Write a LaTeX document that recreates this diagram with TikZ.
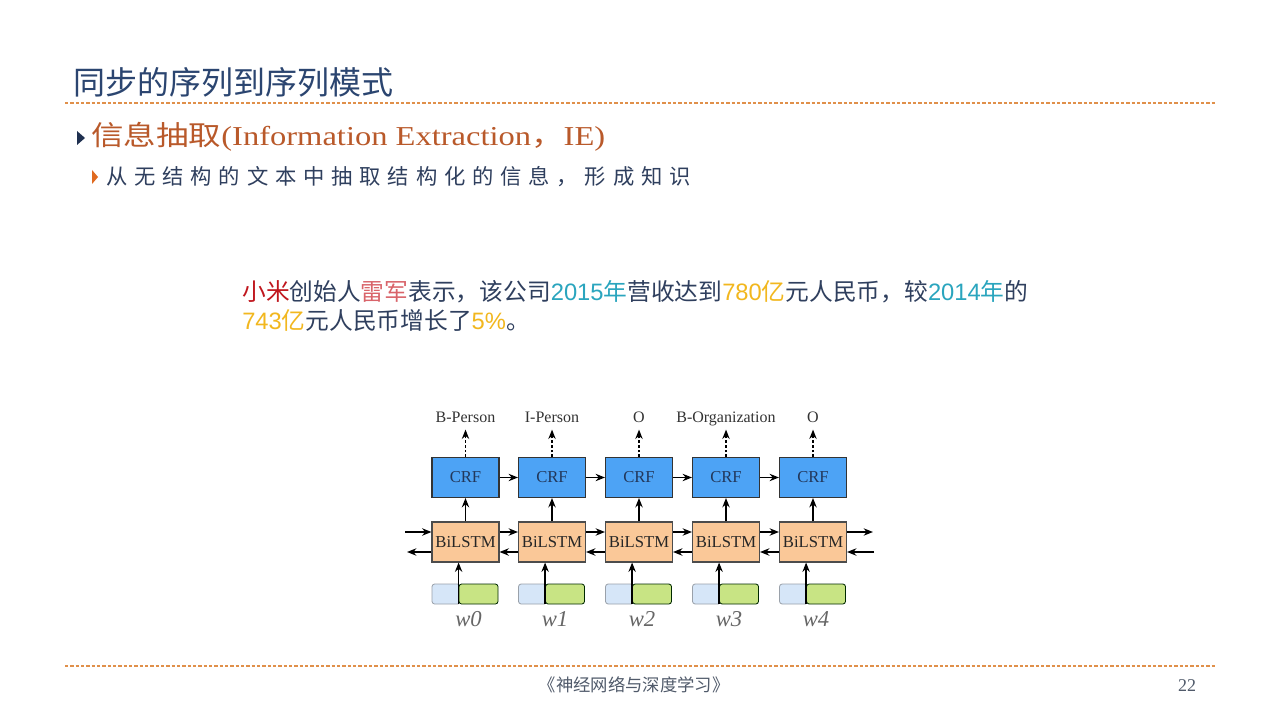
\documentclass[tikz,border=0pt]{standalone}
\usepackage{fontspec}
\setmainfont{Liberation Serif}
\newfontfamily\cjk{Noto Sans CJK SC}
\newfontfamily\cjkwide{Noto Sans CJK SC}[LetterSpace=32]
\newfontfamily\arial{Liberation Sans}
\usetikzlibrary{arrows.meta,calc}
\definecolor{titleblue}{HTML}{2B4570}
\definecolor{bodyblue}{HTML}{2F3F5E}
\definecolor{brown1}{HTML}{B9592A}
\definecolor{dashor}{HTML}{E0904A}
\definecolor{bulletnavy}{HTML}{1F3050}
\definecolor{bulletor}{HTML}{E06A20}
\definecolor{xred}{HTML}{C0161D}
\definecolor{xpink}{HTML}{D9646A}
\definecolor{xteal}{HTML}{2AA5BE}
\definecolor{xgold}{HTML}{F2B71E}
\definecolor{crfblue}{HTML}{4DA3F5}
\definecolor{lstmpeach}{HTML}{FAC898}
\definecolor{inblue}{HTML}{D6E6F8}
\definecolor{ingreen}{HTML}{C8E484}
\definecolor{footgray}{HTML}{505A6A}
\tikzset{
  crfbox/.style={draw=black!80,line width=0.8pt,fill=crfblue,minimum width=50.25pt,minimum height=30pt,inner sep=0pt,font=\fontsize{12.5}{14}\selectfont,text=titleblue!80!black},
  lstmbox/.style={draw=black!70,line width=0.8pt,fill=lstmpeach,minimum width=50.25pt,minimum height=30pt,inner sep=0pt,font=\fontsize{12.5}{14}\selectfont,text=black!85},
  inbluebox/.style={draw=inblue!60!black!80,line width=0.6pt,fill=inblue,rounded corners=2pt,minimum width=21pt,minimum height=15pt,inner sep=0pt},
  ingreenbox/.style={draw=black!60!green!40!black,line width=0.6pt,fill=ingreen,rounded corners=2pt,minimum width=29.25pt,minimum height=15pt,inner sep=0pt},
  toplabel/.style={font=\fontsize{12}{14}\selectfont,text=black!80,inner sep=1pt,text height=8.5pt,text depth=2.5pt},
  wlabel/.style={font=\fontsize{17}{19}\selectfont\itshape,text=black!60,inner sep=1pt},
  arr/.style={-{Stealth[length=7pt,width=5.5pt]},line width=1.1pt,black},
  darr/.style={-{Stealth[length=7pt,width=5.5pt]},line width=1.1pt,black,dash pattern=on 2pt off 1.5pt,shorten >=2pt},
  sepline/.style={dashor,line width=0.8pt,dash pattern=on 2.5pt off 1.5pt},
}
\begin{document}
\begin{tikzpicture}[x=0.75pt,y=-0.75pt]
\useasboundingbox[fill=white] (0,0) rectangle (1280,720);
% title
\node[anchor=west,inner sep=0pt,text=titleblue,font=\cjk\fontsize{24}{28}\selectfont] (title) at (73,82) {同步的序列到序列模式};
\draw[sepline] (65,103) -- (1217,103);
% bullet 1
\fill[bulletnavy] (77,131) -- (85,138) -- (77,145) -- cycle;
\node[anchor=west,inner sep=0pt,text=brown1] (b1) at (91,137) {\scalebox{1.19}[1]{\fontsize{20.5}{24}\selectfont{\cjk 信息抽取}(Information Extraction{\cjk ，}IE)}};
% bullet 2
\fill[bulletor] (92,170) -- (98,177) -- (92,184) -- cycle;
\node[anchor=west,inner sep=0pt,text=bodyblue,font=\cjkwide\fontsize{16}{20}\selectfont] (b2) at (106,177) {从无结构的文本中抽取结构化的信息，形成知识};
% example
\node[anchor=west,inner sep=0pt,text=bodyblue,font=\cjk\fontsize{17.8}{22}\selectfont] (ex1) at (242,292) {{\color{xred}小米}创始人{\color{xpink}雷军}表示，该公司{\color{xteal}\arial 2015\cjk 年}营收达到{\color{xgold}\arial 780\cjk 亿}元人民币，较{\color{xteal}\arial 2014\cjk 年}的};
\node[anchor=west,inner sep=0pt,text=bodyblue,font=\cjk\fontsize{17.8}{22}\selectfont] (ex2) at (242,321) {{\color{xgold}\arial 743\cjk 亿}元人民币增长了{\color{xgold}\arial 5\%}。};
% diagram
\foreach \i/\x/\lab/\w in {0/465.5/B-Person/0,1/552/I-Person/1,2/639/O/2,3/726/B-Organization/3,4/813/O/4}{
  \node[crfbox] (c\i) at (\x,477.5) {CRF};
  \node[lstmbox] (b\i) at (\x,542) {BiLSTM};
  \node[inbluebox] (ib\i) at (\x-19.5,594) {};
  \node[ingreenbox] (ig\i) at (\x+13,594) {};
  \node[toplabel] (t\i) at (\x,418) {\lab};
  \node[wlabel] (w\i) at (\x+3,619) {w\w};
  \draw[arr] (b\i.north) -- (c\i.south);
  \draw[darr] (c\i.north) -- (c\i.north |- t\i.south);
  \draw[arr] (ig\i.south west) -- (ig\i.south west |- b\i.south);
}
\foreach \i/\j in {0/1,1/2,2/3,3/4}{
  \draw[arr] (c\i.east) -- (c\j.west);
  \draw[arr] ($(b\i.east)+(0,-10)$) -- ($(b\j.west)+(0,-10)$);
  \draw[arr] ($(b\j.west)+(0,10)$) -- ($(b\i.east)+(0,10)$);
}
\coordinate (lin) at (405,532);
\coordinate (lout) at (407,552);
\coordinate (rout) at (873,532);
\coordinate (rin) at (874,552);
\draw[arr] (lin) -- (lin -| b0.west);
\draw[arr] (lout -| b0.west) -- (lout);
\draw[arr] (rout -| b4.east) -- (rout);
\draw[arr] (rin) -- (rin -| b4.east);
% footer
\draw[sepline] (65,666) -- (1217,666);
\node[inner sep=0pt,text=footgray,font=\cjk\fontsize{13}{15}\selectfont] (foot) at (634,685) {《神经网络与深度学习》};
\node[inner sep=0pt,text=footgray,font=\fontsize{13.5}{15}\selectfont] (page) at (1187,686) {22};
\end{tikzpicture}
\end{document}
